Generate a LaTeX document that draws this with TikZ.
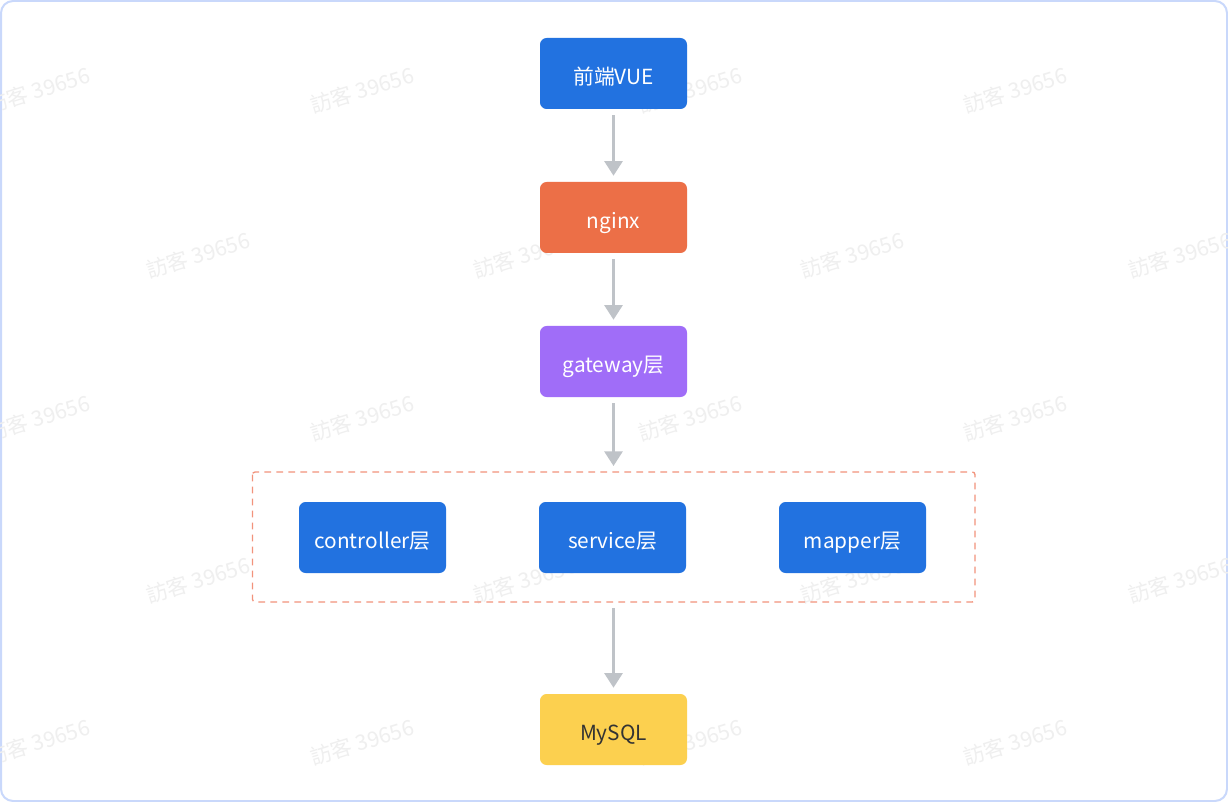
\documentclass[tikz,border=0pt]{standalone}
\usepackage{fontspec}
\setmainfont{Noto Sans CJK SC}
\usetikzlibrary{arrows.meta}
\definecolor{cblue}{HTML}{2272E0}
\definecolor{corange}{HTML}{EC6F47}
\definecolor{cpurple}{HTML}{A06DF8}
\definecolor{cyellow}{HTML}{FCD04F}
\definecolor{carrow}{HTML}{BFC3C8}
\definecolor{cdash}{HTML}{F2937C}
\definecolor{cframe}{HTML}{C9D8FB}
\definecolor{cwm}{HTML}{EFEFEF}
\tikzset{
  box/.style={rounded corners=5pt, minimum width=110.25pt, minimum height=53.25pt, text=white, font=\fontsize{15.6pt}{17pt}\selectfont, inner sep=0pt, text height=17pt, text depth=0pt},
  conn/.style={draw=carrow, line width=2.2pt, -{Triangle[width=13.5pt,length=11pt]}},
  wm/.style={text=cwm, rotate=17, font=\fontsize{16pt}{18pt}\selectfont}
}
\begin{document}
\begin{tikzpicture}[x=0.75pt,y=-0.75pt]
\useasboundingbox (0,0) rectangle (1228,802);
\draw[cframe, line width=1.5pt, fill=white, rounded corners=9pt] (1,1) rectangle (1227,801);
% watermarks
\foreach \x/\y in {38/90,362/90,690/90,1015/90,198/255,525/255,852/255,1180/255,38/418,362/418,690/418,1015/418,198/580,525/580,852/580,1180/580,38/742,362/742,690/742,1015/742}
  \node[wm] at (\x,\y) {訪客 39656};
\draw[cdash, line width=1pt, dash pattern=on 5pt off 4pt, rounded corners=2pt] (252.5,472) rectangle (975,602);
\node[box, fill=cblue] (vue) at (613.5,73.5) {前端VUE};
\node[box, fill=corange] (nginx) at (613.5,217.5) {nginx};
\node[box, fill=cpurple] (gw) at (613.5,361.5) {gateway层};
\node[box, fill=cblue] (ctl) at (372.5,537.5) {controller层};
\node[box, fill=cblue] (svc) at (612.5,537.5) {service层};
\node[box, fill=cblue] (map) at (852.5,537.5) {mapper层};
\node[box, fill=cyellow, text=black!80] (db) at (613.5,729.5) {MySQL};
\coordinate (grp) at (613.5,472);
\coordinate (grpb) at (613.5,602);
\draw[conn] ([yshift=-4.5pt]vue.south) -- ([yshift=4.5pt]nginx.north);
\draw[conn] ([yshift=-4.5pt]nginx.south) -- ([yshift=4.5pt]gw.north);
\draw[conn] ([yshift=-4.5pt]gw.south) -- ([yshift=4.5pt]grp);
\draw[conn] ([yshift=-4.5pt]grpb) -- ([yshift=4.5pt]db.north);
\end{tikzpicture}
\end{document}
